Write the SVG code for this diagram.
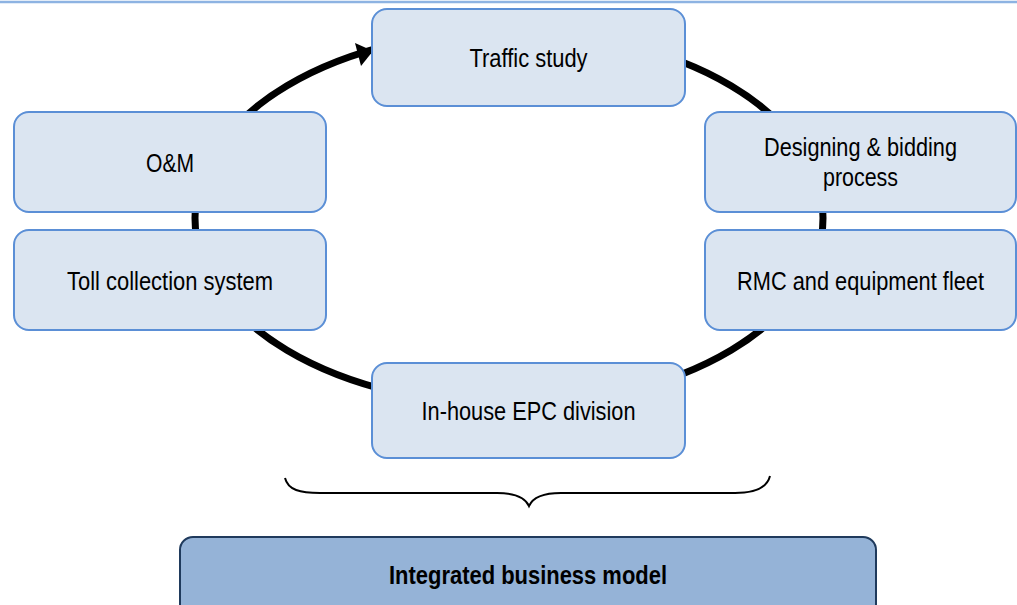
<svg xmlns="http://www.w3.org/2000/svg" width="1017" height="605" viewBox="0 0 1017 605">
<style>
.box{fill:#dbe5f1;stroke:#5b8fd6;stroke-width:2}
.lbl{font-family:"Liberation Sans",Arial,sans-serif;font-size:25px;fill:#000;text-anchor:middle}
.main{fill:#95b3d7;stroke:#1f3a5c;stroke-width:2}
.bold{font-weight:bold}
</style>
<rect width="1017" height="605" fill="#ffffff"/>
<line x1="0" y1="2" x2="1017" y2="2" stroke="#8db3e2" stroke-width="2.5"/>
<g id="connectors">
<ellipse cx="509" cy="218" rx="314" ry="187" fill="none" stroke="#000" stroke-width="7"/>
<polygon points="373,51 361,66 355,43" fill="#000"/>
<path d="M285,478 C288,490 300,493 320,493 L497,493 C515,493 525,497 529,506 C533,497 543,493 561,493 L735,493 C755,493 767,488 770,476" fill="none" stroke="#000" stroke-width="2"/>
</g>
<g id="traffic-study">
<rect class="box" x="372" y="9" width="313" height="97" rx="15"/>
<text class="lbl" x="528.5" y="66.5" textLength="118" lengthAdjust="spacingAndGlyphs">Traffic study</text>
</g>
<g id="designing">
<rect class="box" x="705" y="112" width="311" height="100" rx="15"/>
<text class="lbl" x="860.5" y="156" textLength="193" lengthAdjust="spacingAndGlyphs">Designing &amp; bidding</text>
<text class="lbl" x="860.5" y="186" textLength="75" lengthAdjust="spacingAndGlyphs">process</text>
</g>
<g id="rmc">
<rect class="box" x="705" y="230" width="311" height="100" rx="15"/>
<text class="lbl" x="860.5" y="289.5" textLength="247" lengthAdjust="spacingAndGlyphs">RMC and equipment fleet</text>
</g>
<g id="epc">
<rect class="box" x="372" y="363" width="313" height="95" rx="15"/>
<text class="lbl" x="528.5" y="419.5" textLength="214" lengthAdjust="spacingAndGlyphs">In-house EPC division</text>
</g>
<g id="toll">
<rect class="box" x="14" y="230" width="312" height="100" rx="15"/>
<text class="lbl" x="170" y="289.5" textLength="206" lengthAdjust="spacingAndGlyphs">Toll collection system</text>
</g>
<g id="om">
<rect class="box" x="14" y="112" width="312" height="100" rx="15"/>
<text class="lbl" x="170" y="171.5" textLength="48" lengthAdjust="spacingAndGlyphs">O&amp;M</text>
</g>
<g id="integrated">
<rect class="main" x="180" y="537" width="696" height="80" rx="13"/>
<text class="lbl bold" x="528" y="584" textLength="278" lengthAdjust="spacingAndGlyphs">Integrated business model</text>
</g>
</svg>
